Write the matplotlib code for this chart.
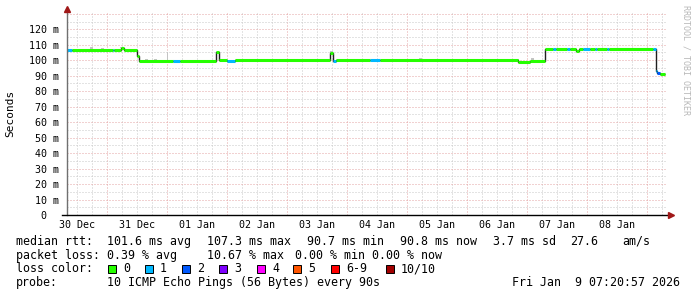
import matplotlib
matplotlib.use("Agg")
import matplotlib.pyplot as plt
from matplotlib.lines import Line2D
from matplotlib.patches import Rectangle

# ---- data (hours since 30 Dec 00:00) ----
seg_start = [8.0, 10.0, 26.4, 26.8, 29.6, 30.8, 36.0, 36.8, 50.4, 53.2,
             67.6, 68.8, 72.0, 75.2, 113.2, 114.4, 115.6, 129.2, 133.2, 188.4,
             193.2, 199.2, 202.4, 203.6, 208.0, 209.2, 211.6, 212.8, 214.4, 217.2,
             219.2, 220.0, 224.0, 224.8, 242.4, 243.4, 244.0, 245.2]
seg_end = 247.2
median_ms = [106.6, 106.5, 106.5, 106.5, 107.6, 106.6, 103.0, 99.5, 99.4, 99.6,
             105.2, 100.1, 99.5, 100.0, 104.8, 99.8, 100.1, 100.0, 100.1, 98.9,
             99.8, 107.3, 107.2, 107.3, 107.3, 107.3, 106.1, 107.4, 107.3, 107.3,
             107.3, 107.3, 107.3, 107.2, 107.2, 93.3, 92.0, 90.9]
loss_count = [1, 0, 1, 0, 0, 0, 0, 0, 1, 0,
              0, 0, 1, 0, 0, 1, 0, 1, 0, 0,
              0, 0, 1, 0, 1, 0, 0, 0, 1, 0,
              1, 0, 1, 0, 1, 1, 2, 0]

smoke_t = [17.6, 22.0, 29.6, 39.6, 43.2, 48.0, 102.0, 109.2, 113.6, 116.4, 122.4, 149.2, 183.6, 188.0, 194.0]
smoke_lo = [107.2, 106.5, 107.6, 99.5, 99.5, 99.5, 100.0, 100.0, 104.8, 100.0, 99.6, 100.0, 100.0, 99.8, 99.8]
smoke_hi = [108.4, 107.6, 108.5, 100.8, 100.8, 105.5, 100.8, 100.8, 106.2, 100.8, 100.6, 101.2, 100.9, 100.9, 101.3]

day_labels = ["30 Dec", "31 Dec", "01 Jan", "02 Jan", "03 Jan",
              "04 Jan", "05 Jan", "06 Jan", "07 Jan", "08 Jan"]
y_ticks = [0, 10, 20, 30, 40, 50, 60, 70, 80, 90, 100, 110, 120]

loss_labels = ["0", "1", "2", "3", "4", "5", "6-9", "10/10"]
loss_colors = ["#26ff00", "#00b8ff", "#0059ff", "#7e00ff", "#ff00ff", "#ff5500", "#ff0000", "#a10000"]

stats_rtt = ["101.6 ms avg", "107.3 ms max", "90.7 ms min", "90.8 ms now", "3.7 ms sd", "27.6", "am/s"]
stats_loss = ["0.39 % avg", "10.67 % max", "0.00 % min", "0.00 % now"]
probe_text = "10 ICMP Echo Pings (56 Bytes) every 90s"
stamp_text = "Fri Jan  9 07:20:57 2026"

# ---- layout ----
W, H = 697, 297
MONO = "DejaVu Sans Mono"
plt.rcParams["font.family"] = MONO

x0, x1 = 7.9, 247.9
y0, y1 = 0, 130.5

fig = plt.figure(figsize=(W / 100, H / 100), dpi=100)
fig.patch.set_facecolor("white")
ax = fig.add_axes([67 / W, (H - 215) / H, 600 / W, 202 / H])
ax.set_xlim(x0, x1)
ax.set_ylim(y0, y1)
for s in ax.spines.values():
    s.set_visible(False)


def fx(px):
    return px / W


def fy(py):
    return 1 - py / H


# grid
dots = (0, (1, 2))
h = 6
while h < x1:
    if h > x0:
        major = h % 24 == 0
        ax.axvline(h, color="#e4a4a4" if major else "#c8c8c8", lw=0.72, ls=dots, zorder=0)
    h += 6
for v in range(5, 131, 5):
    ax.axhline(v, color="#e4a4a4" if v % 10 == 0 else "#c8c8c8", lw=0.72, ls=dots, zorder=0)

# smoke
ax.bar(smoke_t, [hi - lo for lo, hi in zip(smoke_lo, smoke_hi)], bottom=smoke_lo,
       width=[0.4 if t == 48.0 else 1.2 for t in smoke_t], color="#c4c4c4", zorder=1)

# median: thin dark step line plus loss-colored segments
edges = seg_start + [seg_end]
ax.stairs(median_ms, edges, baseline=None, color="#202020", lw=1.0, zorder=2)
for i, v in enumerate(median_ms):
    ax.plot([edges[i], edges[i + 1]], [v, v], color=loss_colors[loss_count[i]],
            lw=2.2, solid_capstyle="butt", zorder=3)

# ticks
ax.set_yticks(y_ticks)
ax.set_yticklabels([f"{t} m" if t else "0  " for t in y_ticks])
ax.set_xticks([12 + 24 * i for i in range(len(day_labels))])
ax.set_xticklabels(day_labels)
ax.tick_params(axis="y", length=0, pad=6.0, labelsize=7.2)
ax.tick_params(axis="x", length=0, pad=3.5, labelsize=7.2)

# axes lines and arrows
fig.add_artist(Line2D([fx(67), fx(67)], [fy(215), fy(11)], color="#707070", lw=1))
fig.add_artist(Line2D([fx(62), fx(669)], [fy(215), fy(215)], color="black", lw=1))
fig.add_artist(Line2D([fx(67)], [fy(9)], marker="^", ms=4, color="#a01818", lw=0))
fig.add_artist(Line2D([fx(671)], [fy(215)], marker=">", ms=4, color="#a01818", lw=0))

# labels
fig.text(fx(10), fy(113), "Seconds", rotation=90, ha="center", va="center", fontsize=8)
fig.text(fx(686), fy(5), "RRDTOOL / TOBI OETIKER", rotation=270, ha="center", va="top",
         fontsize=6, color="#b8b8b8")

fs = 8.4
rows = [245, 258.7, 272.4, 286]
fig.text(fx(16), fy(rows[0]), "median rtt:", fontsize=fs, va="baseline")
for txt, px in zip(stats_rtt, [107, 207, 307, 400, 493, 570, 622]):
    fig.text(fx(px), fy(rows[0]), txt, fontsize=fs, va="baseline")

fig.text(fx(16), fy(rows[1]), "packet loss:", fontsize=fs, va="baseline")
for txt, px in zip(stats_loss, [107, 207, 295, 372]):
    fig.text(fx(px), fy(rows[1]), txt, fontsize=fs, va="baseline")

fig.text(fx(16), fy(rows[2]), "loss color:", fontsize=fs, va="baseline")
box_x = [108, 145, 182, 219, 257, 293, 331, 386]
for lab, col, bx in zip(loss_labels, loss_colors, box_x):
    fig.add_artist(Rectangle((fx(bx), fy(273)), 8 / W, 8 / H, facecolor=col,
                             edgecolor="black", lw=0.7))
    fig.text(fx(bx + 15), fy(rows[2]), lab, fontsize=fs, va="baseline")

fig.text(fx(16), fy(rows[3]), "probe:", fontsize=fs, va="baseline")
fig.text(fx(107), fy(rows[3]), probe_text, fontsize=fs, va="baseline")
fig.text(fx(680), fy(rows[3]), stamp_text, fontsize=fs, va="baseline", ha="right")

fig.savefig("out.png", dpi=100, facecolor="white")
